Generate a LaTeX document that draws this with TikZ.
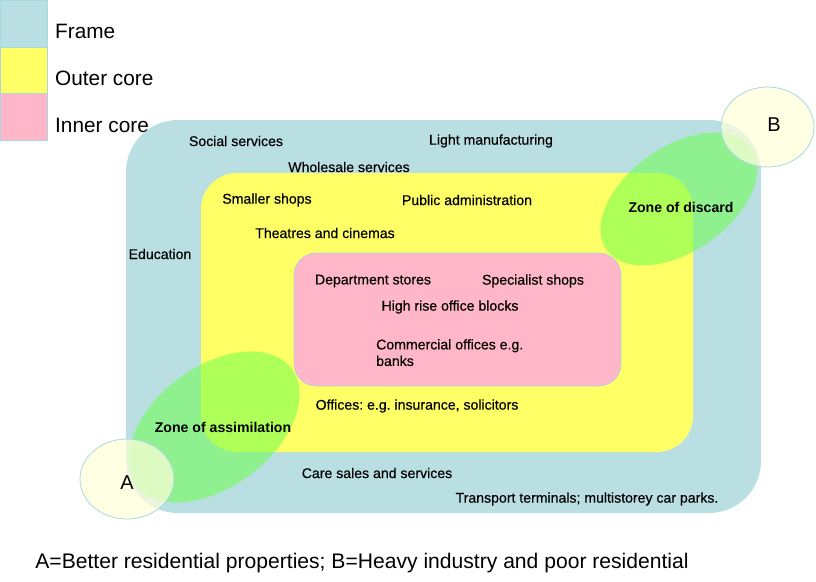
\documentclass[tikz,border=0pt]{standalone}
\usepackage{fontspec}
\setmainfont{Liberation Sans}
\newfontfamily\heavysans[FakeBold=0.35]{Liberation Sans}
\frenchspacing
\definecolor{framecol}{HTML}{BADFE3}
\definecolor{outercol}{HTML}{FFFF66}
\definecolor{innercol}{HTML}{FFB6C8}
\definecolor{zonecol}{HTML}{6CFF4C}
\definecolor{endcol}{HTML}{FFFFD8}
\definecolor{edgecol}{HTML}{A8D8E0}
\tikzset{
  lab/.style={inner sep=0pt, font=\heavysans\fontsize{14.1}{16.5}\selectfont},
  zonelab/.style={inner sep=0pt, font=\fontsize{14.1}{16.5}\selectfont\bfseries},
  legendlab/.style={inner sep=0pt, anchor=west, font=\fontsize{20.8}{24}\selectfont},
  swatch/.style={draw=edgecol, line width=0.6pt},
  zone/.style={fill=zonecol, fill opacity=0.55},
  endzone/.style={fill=endcol, fill opacity=0.7, draw=edgecol, line width=0.8pt, draw opacity=1},
}
\begin{document}
\begin{tikzpicture}[x=1pt,y=-1pt]
\useasboundingbox (0,0) rectangle (816,581);
% legend
\fill[framecol, swatch] (0,0) rectangle (47,47);
\fill[outercol, swatch] (0,47) rectangle (47,93);
\fill[innercol, swatch] (0,93) rectangle (47,140);
\node[legendlab] (lframe) at (55,31) {Frame};
\node[legendlab] (louter) at (55,78) {Outer core};
\node[legendlab] (linner) at (55,125) {Inner core};
% zones
\fill[framecol, rounded corners=52pt] (126,120) rectangle (761,513);
\fill[outercol, rounded corners=36pt] (201,173) rectangle (693,452);
\filldraw[fill=innercol, draw=edgecol, line width=0.6pt, rounded corners=22pt] (294,253) rectangle (621,386);
% green zones
\fill[zone, rotate around={35:(679,199)}] (679,199) ellipse [x radius=88.5, y radius=52.4];
\fill[zone, rotate around={37:(214,427)}] (214,427) ellipse [x radius=97, y radius=60];
% A and B
\filldraw[endzone] (767.5,127) ellipse [x radius=46.5, y radius=40];
\filldraw[endzone] (127,479) ellipse [x radius=47, y radius=40];
% labels
\node[lab] (social) at (236,141) {Social services};
\node[lab] (light) at (491,141) {Light manufacturing};
\node[lab] (whole) at (349,167) {Wholesale services};
\node[lab] (small) at (267,200) {Smaller shops};
\node[lab] (public) at (467,200) {Public administration};
\node[lab] (theatre) at (325,233) {Theatres and cinemas};
\node[lab] (edu) at (160,254) {Education};
\node[lab] (dept) at (373,281) {Department stores};
\node[lab] (spec) at (533,281) {Specialist shops};
\node[lab] (high) at (450,307) {High rise office blocks};
\node[lab, anchor=north west, align=left] (comm) at (376,339) {Commercial offices e.g.\\banks};
\node[lab] (offices) at (417,406) {Offices: e.g. insurance, solicitors};
\node[lab] (care) at (377,473) {Care sales and services};
\node[lab] (trans) at (587,499) {Transport terminals; multistorey car parks.};
\node[zonelab] (discard) at (681,207) {Zone of discard};
\node[zonelab] (assim) at (223,427) {Zone of assimilation};
\node[inner sep=0pt, font=\fontsize{20}{24}\selectfont] (a) at (127,483) {A};
\node[inner sep=0pt, font=\fontsize{20}{24}\selectfont] (b) at (774,125) {B};
\node[inner sep=0pt, font=\fontsize{21.1}{25}\selectfont] (cap) at (362,563) {A=Better residential properties; B=Heavy industry and poor residential};
\end{tikzpicture}
\end{document}
